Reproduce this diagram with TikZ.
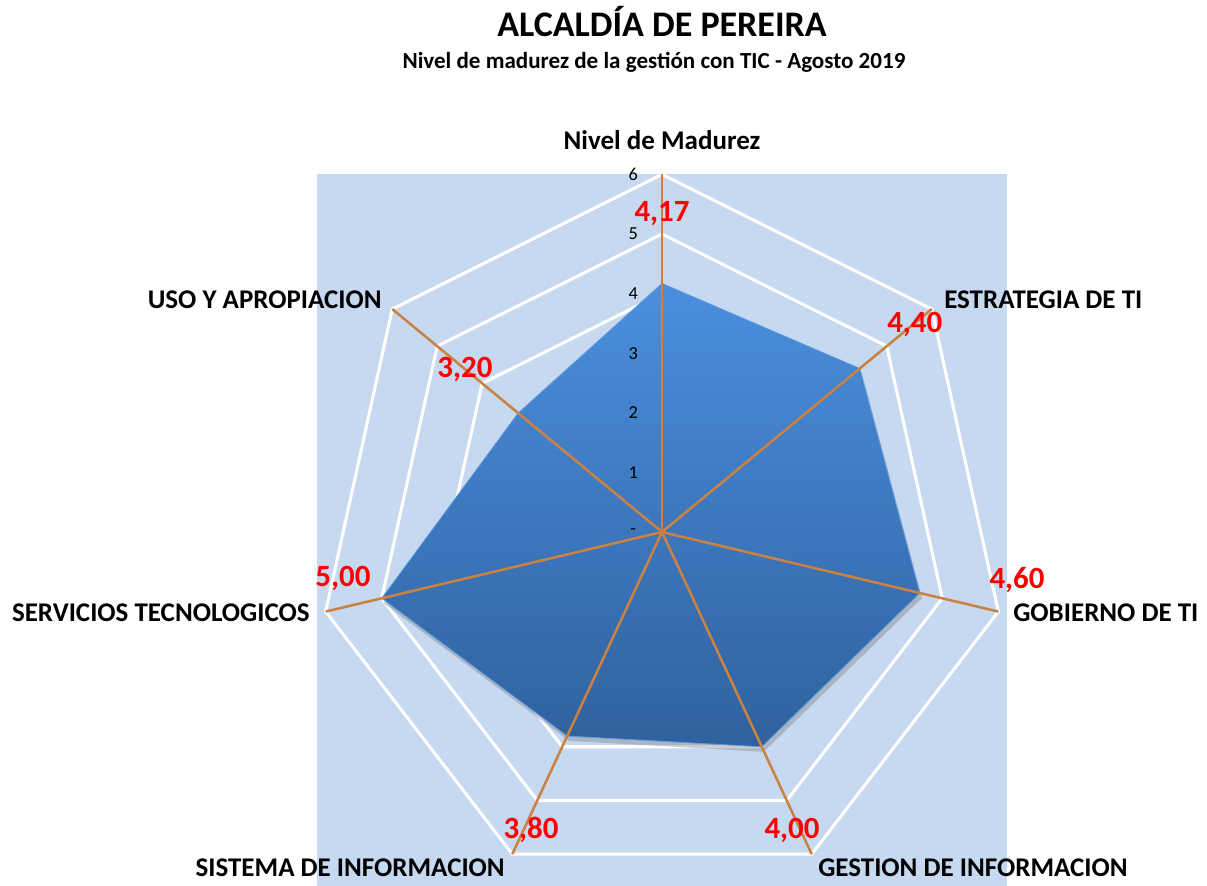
\documentclass[tikz,border=0pt]{standalone}
\usepackage{fontspec}
\setmainfont{Carlito}
\usepackage{xcolor}
\definecolor{chart-white}{HTML}{FFFFFF}
\definecolor{chart-back}{HTML}{C6D9F0}
\definecolor{chart-orange}{HTML}{C98242}
\definecolor{chart-top}{HTML}{4A8FDE}
\definecolor{chart-bottom}{HTML}{30619E}
\definecolor{chart-edge}{HTML}{5E9CE0}
\definecolor{chart-red}{HTML}{FF0000}
\usepackage{tikz}
\usetikzlibrary{shadows}

\begin{document}
\begin{tikzpicture}[
    axislabel/.style={font=\bfseries\fontsize{19.2}{21}\selectfont, text=black, inner sep=0pt},
    valuelabel/.style={font=\bfseries\fontsize{22}{24}\selectfont, text=chart-red, inner sep=0pt},
    ticklabel/.style={font=\fontsize{13}{15}\selectfont, text=black, inner sep=0pt},
    gridline/.style={draw=chart-white, line width=2.2pt, line join=miter},
    axisline/.style={draw=chart-orange, line width=1.8pt},
    datafill/.style={top color=chart-top, bottom color=chart-bottom, draw=chart-edge, line width=0.6pt,
        drop shadow={opacity=0.4, shadow xshift=1.5pt, shadow yshift=-3.5pt}}
]

    % Canvas
    \useasboundingbox (-16.55, -8.85) rectangle (13.625, 13.3);

    % Title
    \node[font=\bfseries\fontsize{25.6}{28}\selectfont] (title) at (0, 12.75) {ALCALDÍA DE PEREIRA};
    \node[font=\bfseries\fontsize{16.4}{18}\selectfont] (subtitle) at (-0.2, 11.75) {Nivel de madurez de la gestión con TIC - Agosto 2019};

    % Background
    \fill[chart-back] (-8.625, -8.85) rectangle (8.625, 8.95);

    \begin{scope}[x=1.4375cm, y=1.49cm]

        % Axis ends
        \coordinate (origin) at (0, 0);
        \coordinate (nivel) at (90:6);
        \coordinate (estrategia) at (38.571:6);
        \coordinate (gobierno) at (-12.857:6);
        \coordinate (gestion) at (-64.286:6);
        \coordinate (sistema) at (-115.714:6);
        \coordinate (servicios) at (-167.143:6);
        \coordinate (uso) at (141.429:6);

        % Grid
        \foreach \r in {1,...,6}
            \draw[gridline] (90:\r) -- (38.571:\r) -- (-12.857:\r) -- (-64.286:\r)
                -- (-115.714:\r) -- (-167.143:\r) -- (141.429:\r) -- cycle;

        % Data
        \shade[datafill] (90:4.17) -- (38.571:4.40) -- (-12.857:4.60) -- (-64.286:4.00)
            -- (-115.714:3.80) -- (-167.143:5.00) -- (141.429:3.20) -- cycle;

        % Axes
        \foreach \a in {nivel, estrategia, gobierno, gestion, sistema, servicios, uso}
            \draw[axisline] (origin) -- (\a);

        % Ticks
        \node[ticklabel] (tick0) at (-0.5, 0) {-};
        \foreach \k in {1,...,6}
            \node[ticklabel] (tick\k) at (-0.5, \k) {\k};

    \end{scope}

    % Axis labels
    \node[axislabel] (label-nivel) at (0, 9.8) {Nivel de Madurez};
    \node[axislabel, anchor=west] (label-estrategia) at (7.05, 5.8) {ESTRATEGIA DE TI};
    \node[axislabel, anchor=west] (label-gobierno) at (8.775, -2.025) {GOBIERNO DE TI};
    \node[axislabel, anchor=west] (label-gestion) at (3.9, -8.4) {GESTION DE INFORMACION};
    \node[axislabel, anchor=east] (label-sistema) at (-3.925, -8.4) {SISTEMA DE INFORMACION};
    \node[axislabel, anchor=east] (label-servicios) at (-8.8, -2.025) {SERVICIOS TECNOLOGICOS};
    \node[axislabel, anchor=east] (label-uso) at (-7.0, 5.8) {USO Y APROPIACION};

    % Values
    \node[valuelabel] (value-nivel) at (0, 7.97) {4,17};
    \node[valuelabel] (value-estrategia) at (6.32, 5.18) {4,40};
    \node[valuelabel] (value-gobierno) at (8.875, -1.2) {4,60};
    \node[valuelabel] (value-gestion) at (3.25, -7.45) {4,00};
    \node[valuelabel] (value-sistema) at (-3.275, -7.45) {3,80};
    \node[valuelabel] (value-servicios) at (-7.975, -1.15) {5,00};
    \node[valuelabel] (value-uso) at (-4.925, 4.075) {3,20};

\end{tikzpicture}
\end{document}
